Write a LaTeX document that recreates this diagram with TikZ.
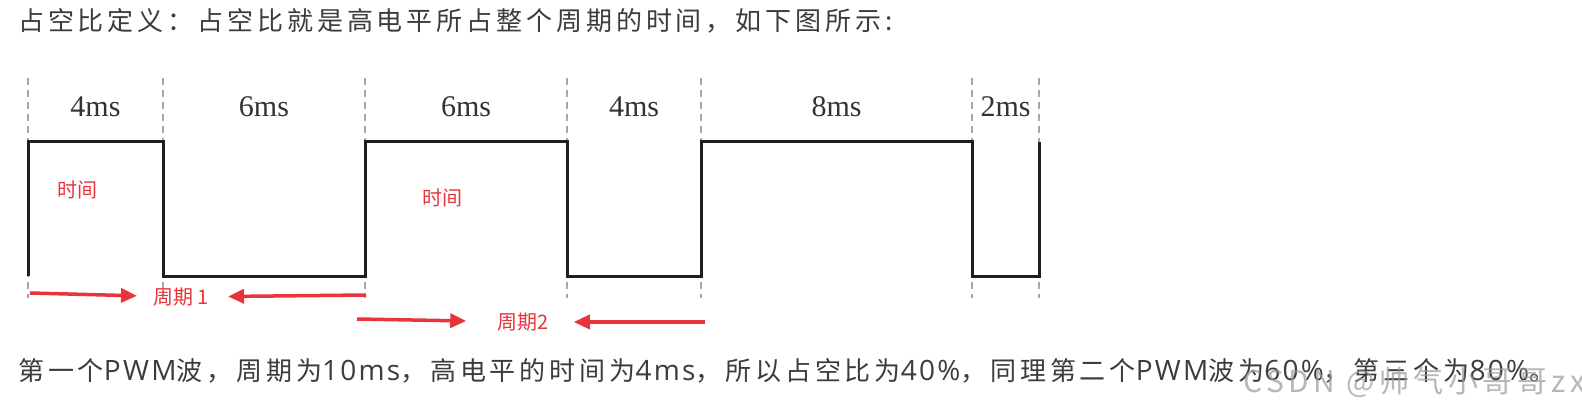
\documentclass[tikz,border=0pt]{standalone}
\usepackage{fontspec}
\setmainfont{Liberation Serif}
\newfontfamily\cjk[LetterSpace=15]{Noto Sans CJK SC}
\newfontfamily\cjklab{Noto Sans CJK SC}
\newfontfamily\latpart[LetterSpace=8]{Open Sans}
\newcommand\wlat[1]{{\latpart\fontsize{28}{28}\selectfont #1}}
\usetikzlibrary{arrows.meta}

\definecolor{markred}{HTML}{E8353B}
\definecolor{textgray}{HTML}{3C3C3C}

\tikzset{
  wave/.style={line width=3pt, black!88, line join=miter},
  guide/.style={dashed, dash pattern=on 7pt off 5pt, line width=1.2pt, black!35},
  dur/.style={font=\fontsize{30}{32}\selectfont, text=black!80},
  redlab/.style={font=\cjklab\fontsize{20}{22}\selectfont, text=markred, inner sep=0pt},
  redarrow/.style={line width=3.5pt, markred, -{Triangle[length=16pt,width=14pt]}},
  para/.style={font=\cjk\fontsize{26}{28}\selectfont, text=textgray, anchor=west, inner sep=0pt},
}

\begin{document}
\begin{tikzpicture}[x=1pt, y=-1pt]
    \fill [white] (0, 0) rectangle (1582, 406);
    \useasboundingbox (0, 0) rectangle (1582, 406);
    % text above and below
    \node [para] (title) at (18, 21) {占空比定义：占空比就是高电平所占整个周期的时间，如下图所示:};
    \node [para] (note)  at (18, 371) {第一个\wlat{PWM}波，周期为\wlat{10ms}，高电平的时间为\wlat{4ms}，所以占空比为\wlat{40\%}，同理第二个\wlat{PWM}波为\wlat{60\%}，第三个为\wlat{80\%}。};
    % guides
    \draw [guide]    (28, 78) -- (28, 298);
    \draw [guide]    (163, 78) -- (163, 298);
    \draw [guide]    (365, 78) -- (365, 298);
    \draw [guide]    (567, 78) -- (567, 298);
    \draw [guide]    (701, 78) -- (701, 298);
    \draw [guide]    (972, 78) -- (972, 298);
    \draw [guide]    (1039, 78) -- (1039, 298);
    % durations
    \node [dur] (d1) at (95.5, 107) {4ms};
    \node [dur] (d2) at (264, 107) {6ms};
    \node [dur] (d3) at (466, 107) {6ms};
    \node [dur] (d4) at (634, 107) {4ms};
    \node [dur] (d5) at (836.5, 107) {8ms};
    \node [dur] (d6) at (1005.5, 107) {2ms};
    % PWM wave
    \draw [wave] (28, 276) -- (28, 142) -- (163, 142) -- (163, 276) -- (365, 276)
                 -- (365, 142) -- (567, 142) -- (567, 276) -- (701, 276) -- (701, 142)
                 -- (972, 142) -- (972, 276) -- (1039, 276) -- (1039, 142);
    % high time
    \node [redlab] (high1) at (77, 190) {时间};
    \node [redlab] (high2) at (442, 198) {时间};
    % period 1
    \node [redlab] (per1) at (181, 297) {周期 1};
    \coordinate (p1a) at (30, 293);
    \coordinate (p1b) at (366, 295);
    \draw [redarrow, shorten >=16pt] (p1a) -- (per1);
    \draw [redarrow, shorten >=19pt] (p1b) -- (per1);
    % period 2
    \node [redlab] (per2) at (523, 322) {周期2};
    \coordinate (p2a) at (357, 319);
    \coordinate (p2b) at (705, 322);
    \draw [redarrow, shorten >=31pt] (p2a) -- (per2);
    \draw [redarrow, shorten >=25pt] (p2b) -- (per2);
    % watermark
    \node [para, font=\cjk\fontsize{30}{32}\selectfont, text=black!40, opacity=0.7] (mark) at (1243, 382) {CSDN @帅气小哥哥zx};
\end{tikzpicture}
\end{document}
